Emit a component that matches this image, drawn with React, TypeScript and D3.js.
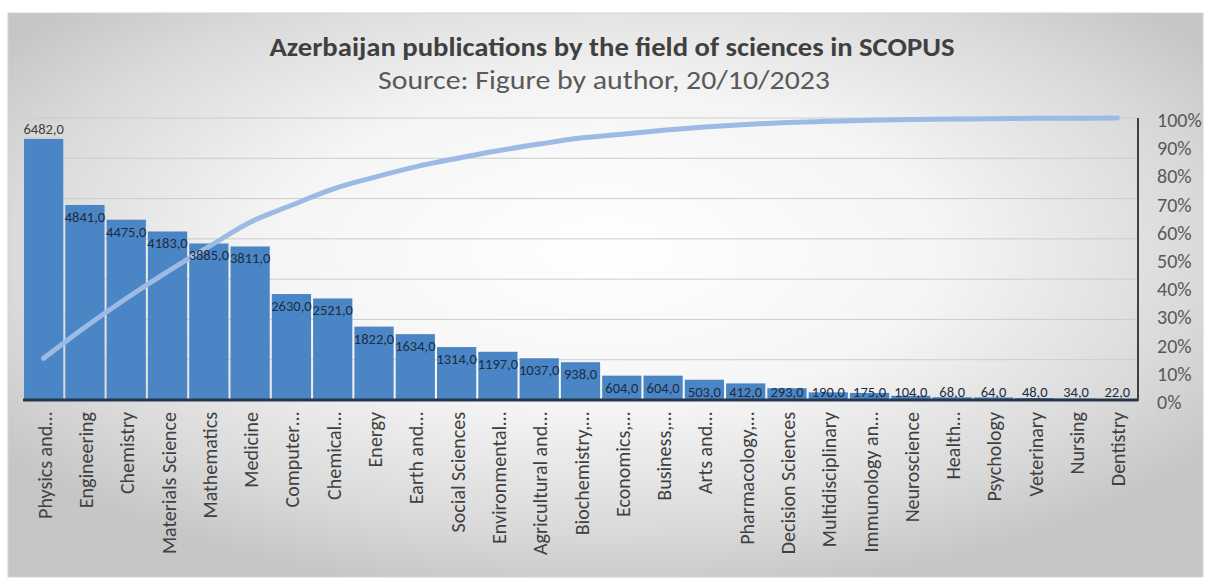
import React from "react";
import * as d3 from "d3";

const categories: string[] = [
  "Physics and…", "Engineering", "Chemistry", "Materials Science", "Mathematics",
  "Medicine", "Computer…", "Chemical…", "Energy", "Earth and…", "Social Sciences",
  "Environmental…", "Agricultural and…", "Biochemistry,…", "Economics,…", "Business,…",
  "Arts and…", "Pharmacology,…", "Decision Sciences", "Multidisciplinary", "Immunology an…",
  "Neuroscience", "Health…", "Psychology", "Veterinary", "Nursing", "Dentistry",
];

const publications: number[] = [
  6482, 4841, 4475, 4183, 3885, 3811, 2630, 2521, 1822, 1634, 1314, 1197, 1037, 938,
  604, 604, 503, 412, 293, 190, 175, 104, 68, 64, 48, 34, 22,
];

const leftTicks: number[] = [0, 1000, 2000, 3000, 4000, 5000, 6000, 7000];
const rightTicks: number[] = [0, 0.1, 0.2, 0.3, 0.4, 0.5, 0.6, 0.7, 0.8, 0.9, 1];

const TITLE = "Azerbaijan publications by the field of sciences in SCOPUS";
const SUBTITLE = "Source: Figure by author, 20/10/2023";

const W = 1205;
const H = 579;
const plot = { left: 23, right: 1138, top: 118, bottom: 400 };
const FONT = "Carlito, Calibri, 'Open Sans', sans-serif";

export default function App() {
  const total = d3.sum(publications);
  const cumulative = d3.cumsum(publications).map((c) => c / total);

  const x = d3
    .scaleBand<string>()
    .domain(categories)
    .range([plot.left, plot.right])
    .paddingInner(0.05)
    .paddingOuter(0.025);
  const yL = d3.scaleLinear().domain([0, 7000]).range([plot.bottom, plot.top]);
  const yR = d3.scaleLinear().domain([0, 1]).range([plot.bottom, plot.top]);

  const line = d3
    .line<number>()
    .x((_, i) => (x(categories[i]) as number) + x.bandwidth() / 2)
    .y((d) => yR(d))
    .curve(d3.curveMonotoneX);

  const fmt = (v: number) => v.toFixed(1).replace(".", ",");

  return (
    <svg
      width={W}
      height={H}
      style={{ position: "absolute", left: 0, top: 0 }}
      xmlns="http://www.w3.org/2000/svg"
    >
      <defs>
        <radialGradient id="bg" cx="0.5" cy="0.42" r="0.62" fx="0.5" fy="0.42">
          <stop offset="0" stopColor="#ffffff" />
          <stop offset="0.45" stopColor="#f5f5f5" />
          <stop offset="0.8" stopColor="#dadada" />
          <stop offset="1" stopColor="#c6c6c6" />
        </radialGradient>
      </defs>
      <rect x={0} y={0} width={W} height={H} fill="#ffffff" />
      <rect x={8} y={13} width={1195} height={564} fill="url(#bg)" stroke="#d4d4d4" />

      <text
        x={612}
        y={56}
        textAnchor="middle"
        fontFamily={FONT}
        fontWeight="bold"
        fontSize={26}
        fill="#404040"
        textLength={685}
        lengthAdjust="spacingAndGlyphs"
      >
        {TITLE}
      </text>
      <text
        x={604}
        y={89}
        textAnchor="middle"
        fontFamily={FONT}
        fontSize={26}
        fill="#595959"
        textLength={452}
        lengthAdjust="spacingAndGlyphs"
      >
        {SUBTITLE}
      </text>

      {leftTicks.slice(1).map((t) => (
        <line
          key={t}
          x1={plot.left}
          x2={plot.right}
          y1={yL(t)}
          y2={yL(t)}
          stroke="#cccccc"
          strokeWidth={1}
        />
      ))}

      {publications.map((v, i) => (
        <rect
          key={categories[i]}
          x={x(categories[i])}
          y={yL(v)}
          width={x.bandwidth()}
          height={plot.bottom - yL(v)}
          fill="#4a86c6"
        />
      ))}

      <path
        d={line(cumulative) || ""}
        fill="none"
        stroke="#9cbae3"
        strokeWidth={5}
        strokeLinecap="round"
        strokeLinejoin="round"
      />

      <line
        x1={plot.left}
        x2={plot.right}
        y1={plot.bottom}
        y2={plot.bottom}
        stroke="#26364b"
        strokeWidth={3}
      />
      <line
        x1={plot.right}
        x2={plot.right}
        y1={plot.top}
        y2={plot.bottom + 1}
        stroke="#404040"
        strokeWidth={2}
      />

      {publications.map((v, i) => {
        const cx = (x(categories[i]) as number) + x.bandwidth() / 2;
        const top = yL(v);
        const cy = i === 0 ? top - 10 : Math.min(top + 12, 392);
        return (
          <text
            key={"l" + i}
            x={cx}
            y={cy}
            textAnchor="middle"
            dominantBaseline="central"
            fontFamily={FONT}
            fontSize={14.5}
            fill={i === 0 ? "#404040" : "#1d2c40"}
          >
            {fmt(v)}
          </text>
        );
      })}

      {rightTicks.map((t) => (
        <text
          key={t}
          x={1157}
          y={yR(t) + 2}
          dominantBaseline="central"
          fontFamily={FONT}
          fontSize={20}
          fill="#595959"
        >
          {Math.round(t * 100) + "%"}
        </text>
      ))}

      {categories.map((c) => {
        const cx = (x(c) as number) + x.bandwidth() / 2;
        return (
          <text
            key={c}
            transform={`translate(${cx + 1},412) rotate(-90)`}
            textAnchor="end"
            dominantBaseline="central"
            fontFamily={FONT}
            fontSize={20}
            fill="#404040"
          >
            {c}
          </text>
        );
      })}
    </svg>
  );
}
